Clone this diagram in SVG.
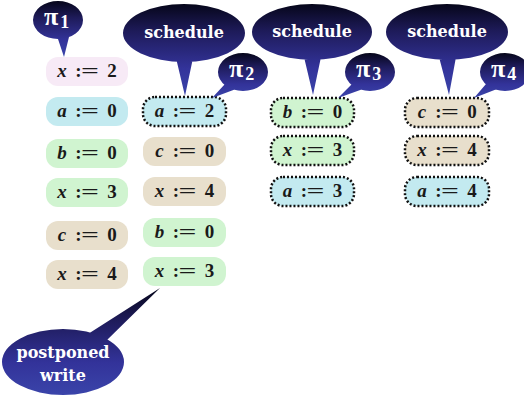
<svg xmlns="http://www.w3.org/2000/svg" width="524" height="396" viewBox="0 0 524 396">
<defs>
<linearGradient id="bg" x1="0" y1="0" x2="0" y2="1">
<stop offset="0" stop-color="#06061a"/>
<stop offset="0.3" stop-color="#1e1b5a"/>
<stop offset="0.7" stop-color="#33339a"/>
<stop offset="1" stop-color="#3a44aa"/>
</linearGradient>
<style>
.bub{fill:url(#bg);}
.bt{font-family:"DejaVu Serif",serif;font-weight:bold;font-size:16px;fill:#fff;text-anchor:middle;}
.pi{font-family:"Liberation Serif",serif;font-weight:bold;font-size:26px;fill:#fff;}
.sub{font-size:18px;}
.box{stroke:none;}
.dot{stroke:#111;stroke-width:2.5;stroke-dasharray:2 2;}
.pink{fill:#f7eaf6;}
.cyan{fill:#c3eaf0;}
.green{fill:#d0f4d0;}
.beige{fill:#e8dfcc;}
.t{font-family:"Liberation Serif",serif;font-weight:bold;font-size:19px;fill:#1a1a1a;text-anchor:middle;}
.v{font-style:italic;}
.eq{font-family:"Liberation Serif",serif;font-weight:bold;font-size:19px;fill:#1a1a1a;}
</style>
</defs>
<rect width="524" height="396" fill="#fff"/>

<g id="connectors">
</g>

<!-- column 1 -->
<g id="c1r1"><rect class="box pink" x="46" y="57" width="82" height="29" rx="12"/><text class="t" y="77"><tspan class="v" x="62">x</tspan><tspan x="112">2</tspan></text><text class="t" x="78.5" y="77">:</text><text class="eq" x="81" y="77" textLength="18" lengthAdjust="spacingAndGlyphs">=</text></g>
<g id="c1r2"><rect class="box cyan" x="46" y="97" width="82" height="29" rx="12"/><text class="t" y="117"><tspan class="v" x="62">a</tspan><tspan x="112">0</tspan></text><text class="t" x="78.5" y="117">:</text><text class="eq" x="81" y="117" textLength="18" lengthAdjust="spacingAndGlyphs">=</text></g>
<g id="c1r3"><rect class="box green" x="46" y="139" width="82" height="29" rx="12"/><text class="t" y="159"><tspan class="v" x="62">b</tspan><tspan x="112">0</tspan></text><text class="t" x="78.5" y="159">:</text><text class="eq" x="81" y="159" textLength="18" lengthAdjust="spacingAndGlyphs">=</text></g>
<g id="c1r4"><rect class="box green" x="46" y="178" width="82" height="29" rx="12"/><text class="t" y="198"><tspan class="v" x="62">x</tspan><tspan x="112">3</tspan></text><text class="t" x="78.5" y="198">:</text><text class="eq" x="81" y="198" textLength="18" lengthAdjust="spacingAndGlyphs">=</text></g>
<g id="c1r5"><rect class="box beige" x="46" y="221" width="82" height="29" rx="12"/><text class="t" y="241"><tspan class="v" x="62">c</tspan><tspan x="112">0</tspan></text><text class="t" x="78.5" y="241">:</text><text class="eq" x="81" y="241" textLength="18" lengthAdjust="spacingAndGlyphs">=</text></g>
<g id="c1r6"><rect class="box beige" x="46" y="260" width="82" height="29" rx="12"/><text class="t" y="280"><tspan class="v" x="62">x</tspan><tspan x="112">4</tspan></text><text class="t" x="78.5" y="280">:</text><text class="eq" x="81" y="280" textLength="18" lengthAdjust="spacingAndGlyphs">=</text></g>

<!-- column 2 -->
<g id="c2r1"><rect class="box cyan dot" x="143" y="97" width="83" height="29" rx="12"/><text class="t" y="117"><tspan class="v" x="159.5">a</tspan><tspan x="209.5">2</tspan></text><text class="t" x="176" y="117">:</text><text class="eq" x="178.5" y="117" textLength="18" lengthAdjust="spacingAndGlyphs">=</text></g>
<g id="c2r2"><rect class="box beige" x="143" y="137" width="83" height="29" rx="12"/><text class="t" y="157"><tspan class="v" x="159.5">c</tspan><tspan x="209.5">0</tspan></text><text class="t" x="176" y="157">:</text><text class="eq" x="178.5" y="157" textLength="18" lengthAdjust="spacingAndGlyphs">=</text></g>
<g id="c2r3"><rect class="box beige" x="143" y="177" width="83" height="29" rx="12"/><text class="t" y="197"><tspan class="v" x="159.5">x</tspan><tspan x="209.5">4</tspan></text><text class="t" x="176" y="197">:</text><text class="eq" x="178.5" y="197" textLength="18" lengthAdjust="spacingAndGlyphs">=</text></g>
<g id="c2r4"><rect class="box green" x="143" y="218" width="83" height="29" rx="12"/><text class="t" y="238"><tspan class="v" x="159.5">b</tspan><tspan x="209.5">0</tspan></text><text class="t" x="176" y="238">:</text><text class="eq" x="178.5" y="238" textLength="18" lengthAdjust="spacingAndGlyphs">=</text></g>
<g id="c2r5"><rect class="box green" x="143" y="257" width="83" height="29" rx="12"/><text class="t" y="277"><tspan class="v" x="159.5">x</tspan><tspan x="209.5">3</tspan></text><text class="t" x="176" y="277">:</text><text class="eq" x="178.5" y="277" textLength="18" lengthAdjust="spacingAndGlyphs">=</text></g>

<!-- column 3 -->
<g id="c3r1"><rect class="box green dot" x="271" y="98" width="83" height="29" rx="12"/><text class="t" y="118"><tspan class="v" x="287.5">b</tspan><tspan x="337.5">0</tspan></text><text class="t" x="304" y="118">:</text><text class="eq" x="306.5" y="118" textLength="18" lengthAdjust="spacingAndGlyphs">=</text></g>
<g id="c3r2"><rect class="box green dot" x="271" y="136" width="83" height="29" rx="12"/><text class="t" y="156"><tspan class="v" x="287.5">x</tspan><tspan x="337.5">3</tspan></text><text class="t" x="304" y="156">:</text><text class="eq" x="306.5" y="156" textLength="18" lengthAdjust="spacingAndGlyphs">=</text></g>
<g id="c3r3"><rect class="box cyan dot" x="271" y="177" width="83" height="29" rx="12"/><text class="t" y="197"><tspan class="v" x="287.5">a</tspan><tspan x="337.5">3</tspan></text><text class="t" x="304" y="197">:</text><text class="eq" x="306.5" y="197" textLength="18" lengthAdjust="spacingAndGlyphs">=</text></g>

<!-- column 4 -->
<g id="c4r1"><rect class="box beige dot" x="405" y="98" width="84" height="29" rx="12"/><text class="t" y="118"><tspan class="v" x="422">c</tspan><tspan x="472">0</tspan></text><text class="t" x="438.5" y="118">:</text><text class="eq" x="441" y="118" textLength="18" lengthAdjust="spacingAndGlyphs">=</text></g>
<g id="c4r2"><rect class="box beige dot" x="405" y="136" width="84" height="29" rx="12"/><text class="t" y="156"><tspan class="v" x="422">x</tspan><tspan x="472">4</tspan></text><text class="t" x="438.5" y="156">:</text><text class="eq" x="441" y="156" textLength="18" lengthAdjust="spacingAndGlyphs">=</text></g>
<g id="c4r3"><rect class="box cyan dot" x="405" y="177" width="84" height="29" rx="12"/><text class="t" y="197"><tspan class="v" x="422">a</tspan><tspan x="472">4</tspan></text><text class="t" x="438.5" y="197">:</text><text class="eq" x="441" y="197" textLength="18" lengthAdjust="spacingAndGlyphs">=</text></g>

<!-- bubbles -->
<g id="pi1"><path class="bub" d="M33,20 A25,19 0 1 1 83,20 A25,19 0 1 1 33,20 Z M56,33 L70,33 L64,57 Z"/><text class="pi" x="44" y="25">π<tspan class="sub" dx="2" dy="3">1</tspan></text></g>
<g id="sched1"><path class="bub" d="M123,33 A61,29 0 1 1 245,33 A61,29 0 1 1 123,33 Z M176,58 L193,58 L185,96 Z"/><text class="bt" x="184" y="38">schedule</text></g>
<g id="pi2"><path class="bub" d="M218,72 A25,19 0 1 1 268,72 A25,19 0 1 1 218,72 Z M225,84 L236,89 L212,98 Z"/><text class="pi" x="229" y="77">π<tspan class="sub" dx="2" dy="3">2</tspan></text></g>
<g id="sched2"><path class="bub" d="M252,32 A60,28 0 1 1 372,32 A60,28 0 1 1 252,32 Z M304,57 L321,57 L313,95 Z"/><text class="bt" x="312" y="37">schedule</text></g>
<g id="pi3"><path class="bub" d="M345,72 A25,19 0 1 1 395,72 A25,19 0 1 1 345,72 Z M352,84 L363,89 L338,98 Z"/><text class="pi" x="356" y="77">π<tspan class="sub" dx="2" dy="3">3</tspan></text></g>
<g id="sched3"><path class="bub" d="M386,32 A61,28 0 1 1 508,32 A61,28 0 1 1 386,32 Z M439,57 L456,57 L449,95 Z"/><text class="bt" x="447" y="37">schedule</text></g>
<g id="pi4"><path class="bub" d="M480,72 A25,19 0 1 1 530,72 A25,19 0 1 1 480,72 Z M486,84 L497,89 L474,98 Z"/><text class="pi" x="491" y="77">π<tspan class="sub" dx="2" dy="3">4</tspan></text></g>
<g id="postponed"><path class="bub" d="M2,362 A61,33 0 1 1 124,362 A61,33 0 1 1 2,362 Z M88,334 L160,288 L106,341 Z"/><text class="bt" x="63" y="358">postponed</text><text class="bt" x="63" y="381">write</text></g>
</svg>
